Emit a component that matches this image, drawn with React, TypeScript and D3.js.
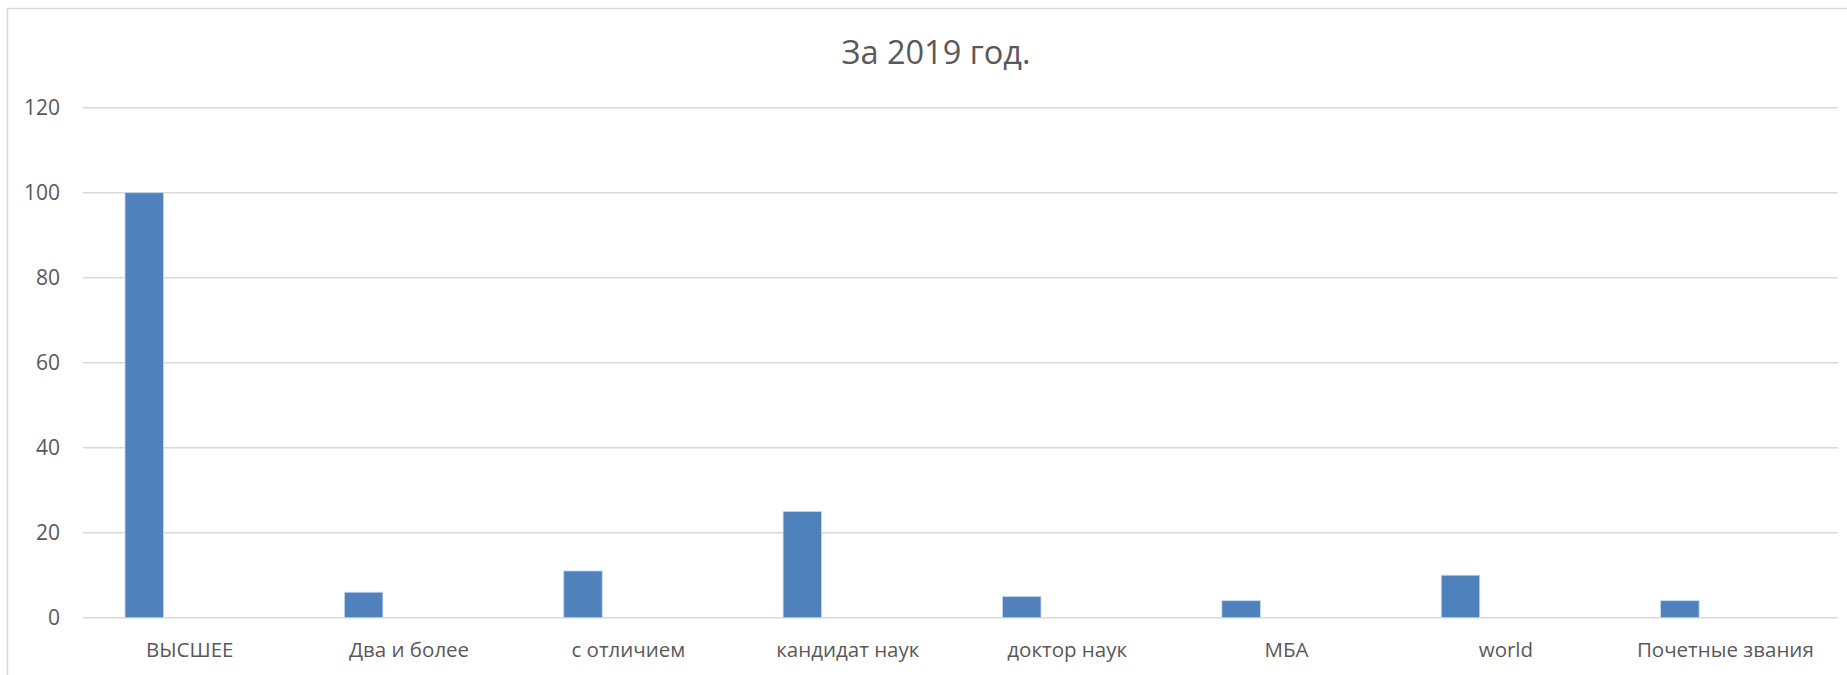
import { useMemo } from 'react';
import * as d3 from 'd3';

const WIDTH = 1847;
const HEIGHT = 675;

const title = 'За 2019 год.';
const categories = [
    'ВЫСШЕЕ',
    'Два и более',
    'с отличием',
    'кандидат наук',
    'доктор наук',
    'МБА',
    'world',
    'Почетные звания',
];
const values = [100, 6, 11, 25, 5, 4, 10, 4];
const yTicks = [0, 20, 40, 60, 80, 100, 120];

const PLOT = { left: 83, right: 1838, top: 107.7, bottom: 617.7 };
// bar sits in the left part of each category slot (Excel clustered layout)
const BAR_OFFSET = 0.1914;
const BAR_FRAC = 0.1755;

const FONT = '"Open Sans", "Noto Sans", sans-serif';
const TEXT = '#595959';
const GRID = '#d9d9d9';
const BAR = '#4f81bd';

export default function App() {
    const x = useMemo(
        () => d3.scaleBand<string>().domain(categories).range([PLOT.left, PLOT.right]).padding(0),
        []
    );
    const y = useMemo(
        () => d3.scaleLinear().domain([0, 120]).range([PLOT.bottom, PLOT.top]),
        []
    );
    const step = x.step();

    return (
        <svg
            width={WIDTH}
            height={HEIGHT}
            style={{ position: 'absolute', left: 0, top: 0, background: '#fff' }}
            fontFamily={FONT}
        >
            {/* chart frame */}
            <path d={`M7.5,${HEIGHT} V8.5 H${WIDTH}`} fill="none" stroke={GRID} strokeWidth={1.5} />

            <text x={936} y={64} textAnchor="middle" fontSize={32.5} fill={TEXT}>
                {title}
            </text>

            {yTicks.map((t) => (
                <g key={t}>
                    <line
                        x1={PLOT.left}
                        x2={PLOT.right}
                        y1={y(t)}
                        y2={y(t)}
                        stroke={GRID}
                        strokeWidth={1.5}
                    />
                    <text x={60} y={y(t)} dy="0.36em" textAnchor="end" fontSize={21} fill={TEXT}>
                        {t}
                    </text>
                </g>
            ))}

            {categories.map((c, i) => (
                <rect
                    key={c}
                    x={(x(c) ?? 0) + step * BAR_OFFSET}
                    y={y(values[i])}
                    width={step * BAR_FRAC}
                    height={y(0) - y(values[i])}
                    fill={BAR}
                    stroke="#c6d9f0"
                    strokeWidth={0.8}
                />
            ))}

            {categories.map((c) => (
                <text
                    key={c}
                    x={(x(c) ?? 0) + step / 2 - 3}
                    y={650}
                    dy="0.36em"
                    textAnchor="middle"
                    fontSize={20.5}
                    fill={TEXT}
                >
                    {c}
                </text>
            ))}
        </svg>
    );
}
